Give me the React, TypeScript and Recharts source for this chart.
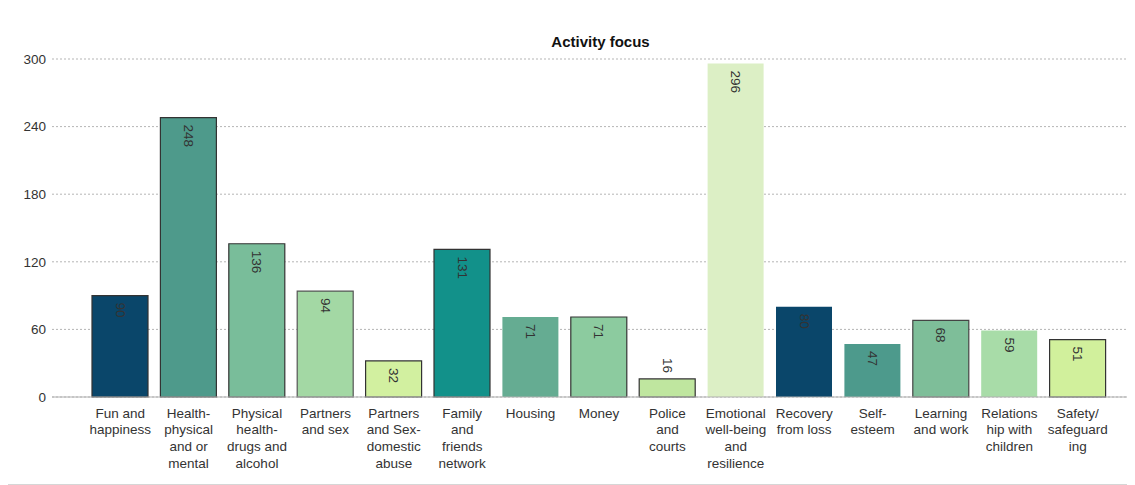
import React from "react";
import { BarChart, Bar, XAxis, YAxis, CartesianGrid, Cell, LabelList } from "recharts";

const categories = [
  "Fun and happiness",
  "Health-physical and or mental",
  "Physical health-drugs and alcohol",
  "Partners and sex",
  "Partners and Sex-domestic abuse",
  "Family and friends network",
  "Housing",
  "Money",
  "Police and courts",
  "Emotional well-being and resilience",
  "Recovery from loss",
  "Self-esteem",
  "Learning and work",
  "Relationship with children",
  "Safety/safeguarding",
];

const tickLabels = [
  ["Fun and", "happiness"],
  ["Health-", "physical", "and or", "mental"],
  ["Physical", "health-", "drugs and", "alcohol"],
  ["Partners", "and sex"],
  ["Partners", "and Sex-", "domestic", "abuse"],
  ["Family", "and", "friends", "network"],
  ["Housing"],
  ["Money"],
  ["Police", "and", "courts"],
  ["Emotional", "well-being", "and", "resilience"],
  ["Recovery", "from loss"],
  ["Self-", "esteem"],
  ["Learning", "and work"],
  ["Relations", "hip with", "children"],
  ["Safety/", "safeguard", "ing"],
];

const values = [90, 248, 136, 94, 32, 131, 71, 71, 16, 296, 80, 47, 68, 59, 51];

const colors = [
  "#0a466a", "#4e9a8b", "#79bd9a", "#a3d8a4", "#d2f0a0",
  "#12918a", "#65ac92", "#8ccb9f", "#bfe69f", "#dcefc5",
  "#0a466a", "#4d9a8c", "#7ebe99", "#a8dca8", "#d1f09c",
];

const strokes = [
  "#333", "#333", "#333", "#555", "#333",
  "#333", "none", "#333", "#333", "none",
  "none", "none", "#444", "none", "#333",
];

const yTicks = [0, 60, 120, 180, 240, 300];

const data = categories.map((c, i) => ({ name: c, idx: i, value: values[i] }));

const FONT = "'Liberation Sans', Arial, sans-serif";

const XTick = (props: any) => {
  const { x, y, payload } = props;
  const lines = tickLabels[payload.index] || [String(payload.value)];
  return (
    <text x={x} y={y} textAnchor="middle" fill="#333" fontSize={13.5} fontFamily={FONT}>
      {lines.map((l, i) => (
        <tspan key={i} x={x} dy={i === 0 ? 12.5 : 16.8}>
          {l}
        </tspan>
      ))}
    </text>
  );
};

const ValueLabel = (props: any) => {
  const { x, y, width, height, value } = props;
  const cx = x + width / 2;
  const inside = height > 30;
  const ty = inside ? y + 7 : y - 6;
  return (
    <text
      x={cx}
      y={ty}
      transform={`rotate(90, ${cx}, ${ty})`}
      textAnchor={inside ? "start" : "end"}
      dominantBaseline="central"
      fill="#333"
      fontSize={13.5}
      fontFamily={FONT}
    >
      {value}
    </text>
  );
};

export default function App() {
  return (
    <div
      style={{
        position: "relative",
        width: 1125,
        height: 478,
        border: "1px solid #d6d6d6",
        boxSizing: "border-box",
        marginLeft: -1,
        marginTop: -1,
        fontFamily: FONT,
        background: "#fff",
      }}
    >
      <div
        style={{
          position: "absolute",
          left: 0,
          width: 1185,
          top: 25,
          textAlign: "center",
          fontWeight: "bold",
          fontSize: 15,
          color: "#111",
          fontFamily: FONT,
        }}
      >
        Activity focus
      </div>
      <BarChart
        width={1123}
        height={476}
        data={data}
        margin={{ top: 51, right: 2, left: 0, bottom: 7 }}
        barSize={56}
      >
        <CartesianGrid vertical={false} stroke="#b5b5b5" strokeDasharray="2 2" />
        <XAxis
          dataKey="name"
          interval={0}
          tickLine={false}
          axisLine={{ stroke: "#b0b0b0", strokeWidth: 1.2 }}
          tick={<XTick />}
          height={80}
          padding={{ left: 34, right: 17 }}
        />
        <YAxis
          width={44}
          domain={[0, 300]}
          ticks={yTicks}
          tickLine={false}
          axisLine={false}
          tickMargin={0}
          tick={{ fill: "#333", fontSize: 13.5, fontFamily: FONT }}
        />
        <Bar dataKey="value" isAnimationActive={false}>
          {data.map((d, i) => (
            <Cell key={i} fill={colors[i]} stroke={strokes[i]} strokeWidth={strokes[i] === "none" ? 0 : 1.2} />
          ))}
          <LabelList dataKey="value" content={<ValueLabel />} />
        </Bar>
      </BarChart>
    </div>
  );
}
